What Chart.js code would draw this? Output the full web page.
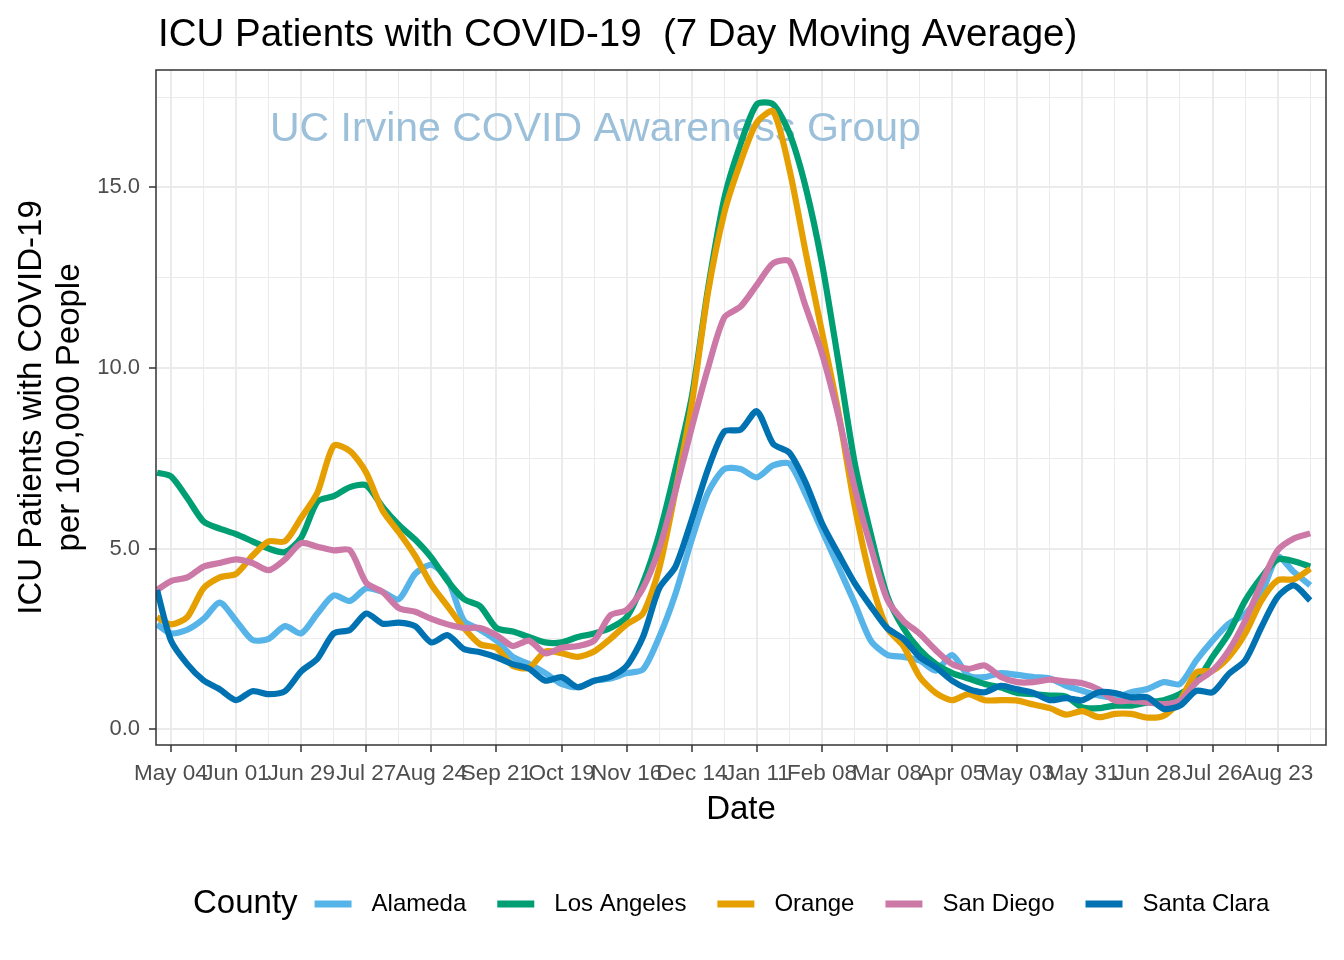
<!DOCTYPE html>
<html>
<head>
<meta charset="utf-8">
<script src="https://cdn.jsdelivr.net/npm/chart.js@4.4.1/dist/chart.umd.min.js"></script>
<style>
  html, body { margin: 0; padding: 0; background: #fff; }
  #wrap { width: 1344px; height: 960px; }
</style>
</head>
<body>
<div id="wrap"><canvas id="icuChart" width="1344" height="960"></canvas></div>
<script>
// Days since May 04 2020 (weekly readings of the 7 day average)
const days = [-6, 0, 7, 14, 21, 28, 35, 42, 49, 56, 63, 70, 77, 84, 91, 98, 105, 112, 119, 126,
  133, 140, 147, 154, 161, 168, 175, 182, 189, 196, 203, 210, 217, 224, 231, 238, 245, 252, 259, 266,
  273, 280, 287, 294, 301, 308, 315, 322, 329, 336, 343, 350, 357, 364, 371, 378, 385, 392, 399, 406,
  413, 420, 427, 434, 441, 448, 455, 462, 469, 476, 483, 490];

const tickDays = [0, 28, 56, 84, 112, 140, 168, 196, 224, 252, 280, 308, 336, 364, 392, 420, 448, 476];
const tickLabels = ['May 04', 'Jun 01', 'Jun 29', 'Jul 27', 'Aug 24', 'Sep 21', 'Oct 19', 'Nov 16', 'Dec 14',
  'Jan 11', 'Feb 08', 'Mar 08', 'Apr 05', 'May 03', 'May 31', 'Jun 28', 'Jul 26', 'Aug 23'];
const yTicks = [0, 5, 10, 15];

const counties = ['Alameda', 'Los Angeles', 'Orange', 'San Diego', 'Santa Clara'];

const alameda = [2.9, 2.65, 2.75, 3.05, 3.5, 3.0, 2.47, 2.5, 2.85, 2.65, 3.2, 3.7, 3.55, 3.9, 3.8, 3.6, 4.3, 4.55, 4.15, 3.0,
  2.75, 2.45, 2.0, 1.8, 1.55, 1.25, 1.16, 1.34, 1.4, 1.55, 1.65, 2.55, 3.75, 5.25, 6.55, 7.2, 7.2, 6.97, 7.3, 7.35,
  6.5, 5.5, 4.5, 3.5, 2.45, 2.06, 2.0, 1.9, 1.62, 2.05, 1.48, 1.44, 1.55, 1.5, 1.44, 1.4, 1.2, 1.06, 0.93, 0.88,
  1.02, 1.11, 1.3, 1.25, 1.9, 2.45, 2.92, 3.19, 3.75, 4.77, 4.35, 3.98];

const losAngeles = [7.1, 7.0, 6.4, 5.75, 5.55, 5.4, 5.2, 5.0, 4.9, 5.3, 6.3, 6.45, 6.7, 6.75, 6.15, 5.65, 5.25, 4.75, 4.1, 3.6,
  3.4, 2.8, 2.7, 2.55, 2.4, 2.4, 2.55, 2.65, 2.8, 3.1, 4.05, 5.4, 7.2, 9.2, 12.2, 14.7, 16.2, 17.3, 17.3, 16.5,
  15.0, 12.9, 10.2, 7.4, 5.4, 3.7, 2.8, 2.2, 1.8, 1.55, 1.4, 1.25, 1.15, 1.0, 0.97, 0.93, 0.9, 0.6, 0.58, 0.65,
  0.65, 0.74, 0.8, 0.97, 1.3, 2.0, 2.65, 3.55, 4.2, 4.7, 4.65, 4.5];

const orange = [3.1, 2.9, 3.1, 3.9, 4.2, 4.3, 4.8, 5.2, 5.2, 5.85, 6.55, 7.85, 7.7, 7.1, 6.05, 5.45, 4.8, 4.0, 3.4, 2.8,
  2.35, 2.25, 1.75, 1.7, 2.15, 2.1, 2.0, 2.15, 2.5, 2.9, 3.2, 4.45, 6.6, 9.0, 12.1, 14.3, 15.7, 16.8, 17.1, 15.5,
  13.2, 11.0, 8.8, 6.2, 4.15, 2.8, 2.3, 1.45, 1.0, 0.8, 0.97, 0.8, 0.8, 0.79, 0.68, 0.58, 0.4, 0.5, 0.33, 0.42,
  0.42, 0.32, 0.37, 0.79, 1.57, 1.62, 2.0, 2.64, 3.56, 4.12, 4.15, 4.44];

const sanDiego = [3.85, 4.1, 4.2, 4.5, 4.6, 4.7, 4.6, 4.4, 4.7, 5.15, 5.05, 4.95, 4.95, 4.05, 3.8, 3.35, 3.25, 3.05, 2.9, 2.8,
  2.8, 2.6, 2.3, 2.45, 2.1, 2.25, 2.3, 2.45, 3.15, 3.3, 3.9, 5.0, 6.6, 8.35, 10.0, 11.4, 11.7, 12.3, 12.9, 12.95,
  11.7, 10.4, 8.7, 6.7, 5.05, 3.6, 3.0, 2.64, 2.18, 1.8, 1.67, 1.76, 1.44, 1.3, 1.3, 1.37, 1.32, 1.27, 1.1, 0.79,
  0.79, 0.74, 0.69, 0.79, 1.3, 1.62, 2.18, 3.0, 4.03, 4.95, 5.28, 5.42];

const santaClara = [3.85, 2.45, 1.8, 1.35, 1.1, 0.8, 1.05, 0.97, 1.05, 1.6, 1.95, 2.65, 2.75, 3.2, 2.92, 2.95, 2.85, 2.4, 2.6, 2.22,
  2.13, 1.99, 1.8, 1.67, 1.34, 1.44, 1.16, 1.34, 1.45, 1.75, 2.55, 3.9, 4.5, 5.8, 7.2, 8.24, 8.29, 8.8, 7.9, 7.65,
  6.82, 5.7, 4.86, 4.05, 3.4, 2.8, 2.5, 2.0, 1.71, 1.34, 1.11, 1.02, 1.2, 1.1, 1.0, 0.8, 0.86, 0.8, 1.02, 1.0,
  0.88, 0.88, 0.56, 0.65, 1.06, 1.02, 1.53, 1.9, 2.82, 3.66, 3.98, 3.56];

const seriesValues = [alameda, losAngeles, orange, sanDiego, santaClara];
const colors = ['#56B4E9', '#009E73', '#E69F00', '#CC79A7', '#0072B2'];

const FONT = '"Liberation Sans", Arial, sans-serif';
const gridColor = '#EBEBEB';
const darkGrey = '#333333';

const datasets = counties.map((name, i) => ({
  label: name,
  data: days.map((d, j) => ({ x: d, y: seriesValues[i][j] })),
  borderColor: colors[i],
  backgroundColor: colors[i],
  borderWidth: 6.2,
  pointRadius: 0,
  tension: 0.25,
  borderJoinStyle: 'round',
  borderCapStyle: 'butt',
  order: counties.length - i
}));

// Title, watermark, panel border and legend, ggplot style
const decorations = {
  id: 'decorations',
  beforeDatasetsDraw(chart) {
    const ctx = chart.ctx;
    ctx.save();
    ctx.font = '41px ' + FONT;
    ctx.fillStyle = '#9CC0DA';
    ctx.textBaseline = 'middle';
    ctx.fillText('UC Irvine COVID Awareness Group', 270, 130);
    ctx.restore();
  },
  afterDatasetsDraw(chart) {
    const { ctx, chartArea: a } = chart;
    ctx.save();
    ctx.strokeStyle = darkGrey;
    ctx.lineWidth = 1.5;
    ctx.strokeRect(a.left, a.top, a.right - a.left, a.bottom - a.top);
    ctx.restore();
  },
  afterDraw(chart) {
    const ctx = chart.ctx;
    ctx.save();
    ctx.fillStyle = '#000';
    ctx.textBaseline = 'alphabetic';
    ctx.font = '38.5px ' + FONT;
    ctx.fillText('ICU Patients with COVID-19  (7 Day Moving Average)', 158, 46);

    // legend
    const y = 904;
    ctx.textBaseline = 'middle';
    ctx.font = '33px ' + FONT;
    let x = 193;
    ctx.fillText('County', x, y);
    x += ctx.measureText('County').width + 17;
    ctx.font = '24px ' + FONT;
    chart.data.datasets.forEach(ds => {
      ctx.strokeStyle = ds.borderColor;
      ctx.lineWidth = 7;
      ctx.beginPath();
      ctx.moveTo(x, y);
      ctx.lineTo(x + 37, y);
      ctx.stroke();
      x += 37 + 20;
      ctx.fillText(ds.label, x, y);
      x += ctx.measureText(ds.label).width + 31;
    });
    ctx.restore();
  }
};

new Chart(document.getElementById('icuChart'), {
  type: 'line',
  data: { datasets },
  options: {
    responsive: false,
    animation: false,
    layout: { padding: { top: 70, right: 18, bottom: 131, left: 10 } },
    plugins: {
      legend: { display: false },
      tooltip: { enabled: false },
      title: { display: false }
    },
    scales: {
      x: {
        type: 'linear',
        min: -6.45,
        max: 496.8,
        afterBuildTicks(scale) {
          const t = [];
          for (let v = 0; v <= 490; v += 14) t.push({ value: v });
          scale.ticks = t;
        },
        afterFit(scale) { scale.height = 84; },
        border: { display: false },
        grid: {
          color: gridColor,
          lineWidth: c => (c.tick && tickDays.includes(c.tick.value) ? 2 : 1),
          tickColor: c => (c.tick && tickDays.includes(c.tick.value) ? darkGrey : 'rgba(0,0,0,0)'),
          tickLength: 7,
          tickWidth: 1.5
        },
        ticks: {
          autoSkip: false,
          maxRotation: 0,
          minRotation: 0,
          padding: 8,
          color: '#4D4D4D',
          font: { family: FONT, size: 22.5 },
          callback: v => {
            const k = tickDays.indexOf(v);
            return k >= 0 ? tickLabels[k] : '';
          }
        },
        title: {
          display: true,
          text: 'Date',
          color: '#000',
          font: { family: FONT, size: 33, lineHeight: 1.15 },
          padding: { top: 0, bottom: 0 }
        }
      },
      y: {
        type: 'linear',
        min: -0.44,
        max: 18.25,
        afterBuildTicks(scale) {
          const t = [];
          for (let v = 0; v <= 17.5; v += 2.5) t.push({ value: v });
          scale.ticks = t;
        },
        afterFit(scale) { scale.width = 146; },
        border: { display: false },
        grid: {
          color: gridColor,
          lineWidth: c => (c.tick && yTicks.includes(c.tick.value) ? 2 : 1),
          tickColor: c => (c.tick && yTicks.includes(c.tick.value) ? darkGrey : 'rgba(0,0,0,0)'),
          tickLength: 7,
          tickWidth: 1.5
        },
        ticks: {
          padding: 9,
          color: '#4D4D4D',
          font: { family: FONT, size: 22 },
          callback: v => (yTicks.includes(v) ? v.toFixed(1) : '')
        },
        title: {
          display: true,
          text: ['ICU Patients with COVID-19', 'per 100,000 People'],
          color: '#000',
          font: { family: FONT, size: 33, lineHeight: 1.15 },
          padding: { top: 3, bottom: 0 }
        }
      }
    }
  },
  plugins: [decorations]
});
</script>
</body>
</html>
